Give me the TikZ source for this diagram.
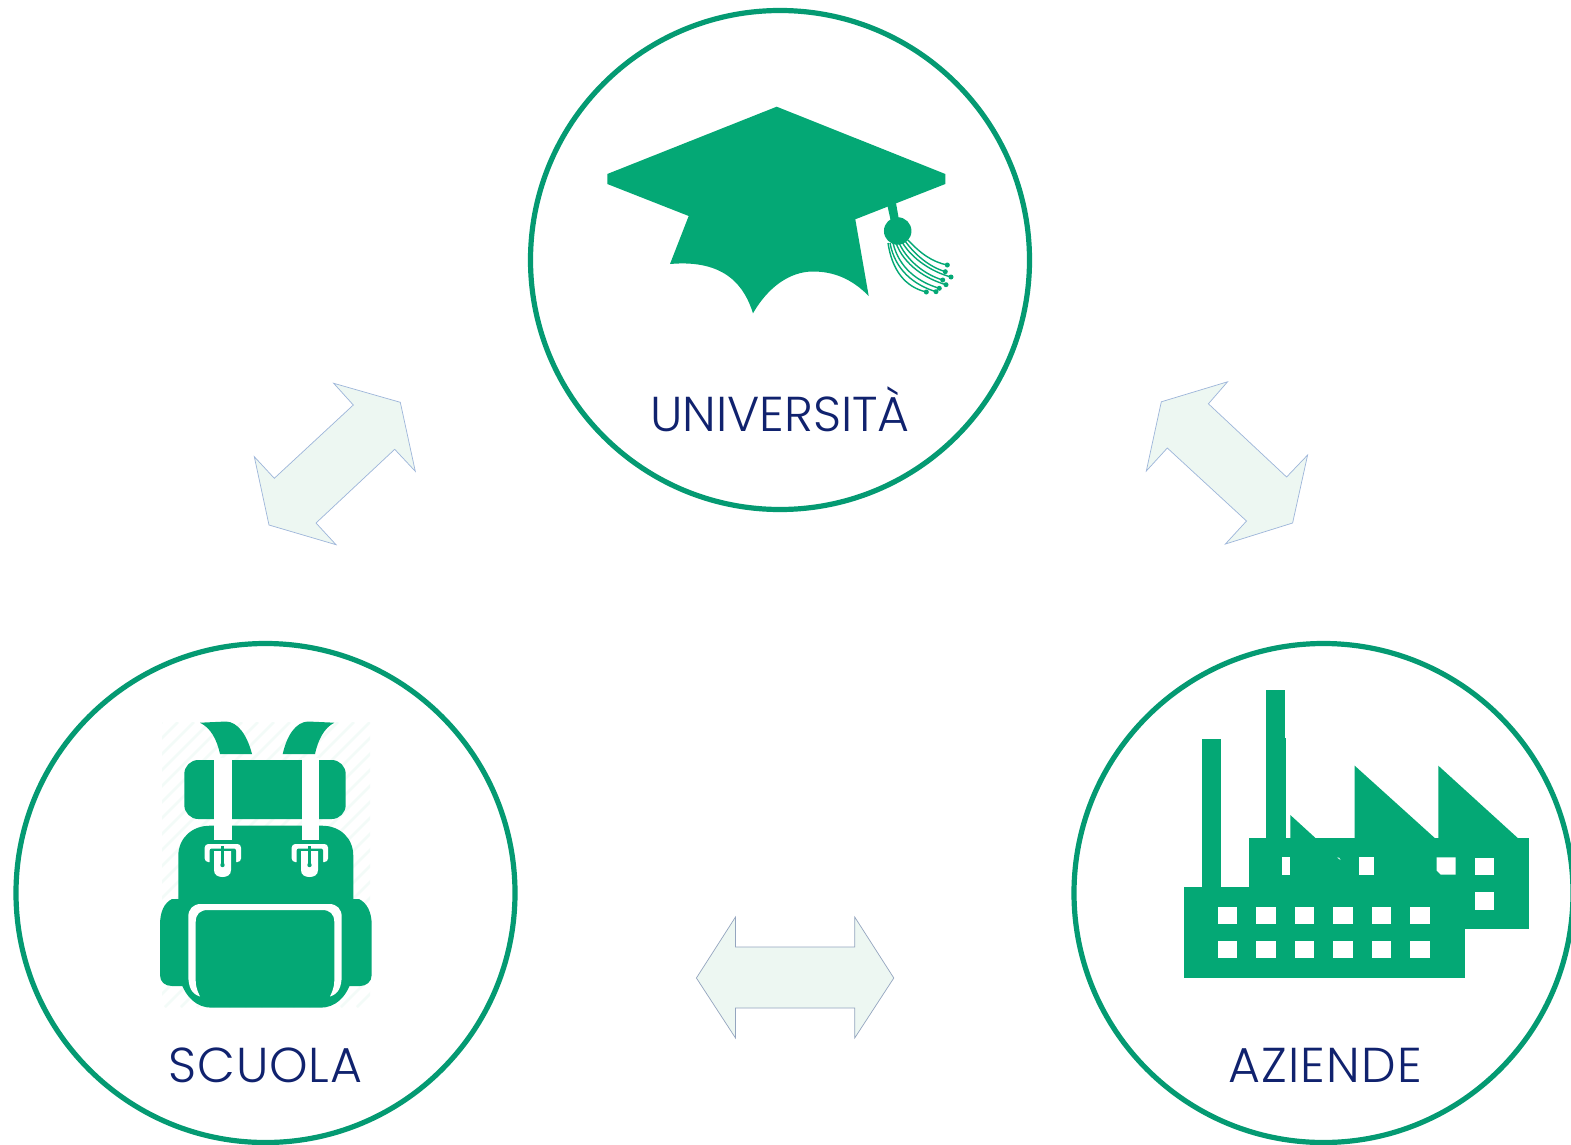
\documentclass[tikz,border=0pt]{standalone}
\usepackage{fontspec}
\newfontfamily\lblfont{Poppins}[UprightFont=* Light]
\definecolor{capgreen}{HTML}{04A875}
\definecolor{ringgreen}{HTML}{049A72}
\definecolor{navy}{HTML}{10226E}
\definecolor{arrowfill}{HTML}{EDF7F2}
\definecolor{arrowline}{HTML}{9DB5DA}
\definecolor{hatch}{HTML}{F3FBF8}
\tikzset{
  ring/.style={circle,draw=ringgreen,line width=5.2pt,minimum size=499pt,inner sep=0pt},
  lbl/.style={anchor=base,text=navy,font=\lblfont\fontsize{49}{49}\selectfont,inner sep=0pt},
  duo/.style={fill=arrowfill,draw=arrowline,line width=0.7pt,line join=miter},
  icon/.style={fill=capgreen,draw=none},
  gap/.style={fill=white,draw=none},
  strand/.style={draw=capgreen,line width=1.4pt,fill=none},
  tip/.style={circle,fill=capgreen,inner sep=0pt,minimum size=5pt}
}
\begin{document}
\begin{tikzpicture}[x=1pt,y=-1pt]
\useasboundingbox (0,0) rectangle (1571,1145);
\clip (0,0) rectangle (1571,1145);
\fill[white] (0,0) rectangle (1571,1145);

% rings
\node[ring] (uni) at (780,260) {};
\node[ring] (scu) at (265.5,893) {};
\node[ring] (azi) at (1323.5,893) {};

% labels
\node[lbl] (unilabel) at (780,431) {UNIVERSITÀ};
\node[lbl] (sculabel) at (265.5,1082) {\addfontfeature{LetterSpace=1.5}SCUOLA};
\node[lbl] (azilabel) at (1325,1082) {\addfontfeature{LetterSpace=2.5}AZIENDE};

% double arrows
\draw[duo] (333.7,383.3) -- (353.3,405) -- (274.3,478.3) -- (254.3,456.7) -- (269,525) -- (336,544.7) -- (316,523) -- (394.7,449.3) -- (415.3,471.3) -- (400.3,402.3) -- cycle;
\draw[duo] (1227.5,381.8) -- (1208.4,403.8) -- (1286.6,477) -- (1307.6,455) -- (1292.6,523) -- (1225.4,544) -- (1246.5,521) -- (1167.3,448) -- (1146.3,471) -- (1161.3,401.8) -- cycle;
\draw[duo,draw=arrowline!70!gray] (696.4,978) -- (735.5,917) -- (735.5,947) -- (854.7,947) -- (854.7,917) -- (893.8,978) -- (854.7,1038) -- (854.7,1008) -- (735.5,1008) -- (735.5,1038) -- cycle;

% graduation cap
\fill[icon] (776.7,106.7) -- (945.3,174) -- (945.3,184) -- (855.3,219.3) -- (868.7,296)
  .. controls (852,279) and (834,271.5) .. (813,271.5)
  .. controls (790,271.5) and (768,287) .. (753,313.3)
  .. controls (745,288) and (727,259) .. (670,264)
  -- (688.7,216) -- (607.3,184) -- (607.3,174) -- cycle;
\fill[icon] (887.5,206) -- (896,203) -- (899,220) -- (891,222) -- cycle;
\node[circle,fill=capgreen,inner sep=0pt,minimum size=27.5pt] (ball) at (897.7,231) {};
\foreach \sx/\sy/\ax/\ay/\bx/\by/\ex/\ey in {
  908/240/920/253/932/262/947.3/265,
  905/241/916/256/930/267/945.3/271.7,
  902/242/912/259/932/272/951/277,
  899/243/908/262/926/275/942.7/280,
  896/243/904/265/926/279/946/284.7,
  893/243/899/268/918/282/939.3/288.3,
  890/243/895/270/914/285/936/291.7,
  888/243/892/270/905/287/926.3/292}{
  \draw[strand] (\sx,\sy) .. controls (\ax,\ay) and (\bx,\by) .. (\ex,\ey);
  \node[tip] at (\ex,\ey) {};
}

% backpack: faint hatching
\begin{scope}
\clip (162,722) rectangle (370,1007);
\foreach \k in {0,16,...,520}{
  \draw[hatch,line width=2.5pt] (162+\k-285,1007) -- (162+\k,722);
}
\end{scope}
% backpack: straps
\fill[icon] (200,722.7) -- (226,721.5) .. controls (238,722) and (247,735) .. (252,754) -- (220,754) .. controls (217,740) and (211,728) .. (200,722.7) -- cycle;
\fill[icon] (334.3,722.7) -- (308,721.5) .. controls (296,722) and (287,735) .. (282.7,754) -- (315,754) .. controls (318,740) and (324,728) .. (334.3,722.7) -- cycle;
% backpack: roll
\fill[icon,rounded corners=14pt] (184.3,760) rectangle (345.7,819);
% backpack: side pockets and body
\fill[icon] (172,899) .. controls (164,903) and (160,912) .. (160,925) -- (160,975) .. controls (160,982) and (165,986) .. (172,986) -- (360,986) .. controls (366,986) and (371.7,982) .. (371.7,975) -- (371.7,925) .. controls (371.7,912) and (367,903) .. (359,899) -- cycle;
\fill[icon] (178.3,910) -- (178.3,856) .. controls (178.3,838) and (192,825.7) .. (210,825.7) -- (322,825.7) .. controls (340,825.7) and (353.3,838) .. (353.3,856) -- (353.3,910) -- cycle;
\fill[icon] (180,980) .. controls (186,998) and (197,1007.7) .. (212,1007.7) -- (320,1007.7) .. controls (335,1007.7) and (346,998) .. (351.7,980) -- cycle;
% backpack: white strap bands
\fill[gap] (214,758) rectangle (231.7,840);
\fill[gap] (301.7,758) rectangle (319.3,840);
% backpack: pocket frame
\fill[gap] (200,996.5) .. controls (192,994) and (188.3,988) .. (188.3,975) -- (188.3,917) .. controls (188.3,909) and (193,904) .. (201,904)
  -- (329,904) .. controls (337,904) and (341.7,909) .. (341.7,917) -- (341.7,975) .. controls (341.7,988) and (338,994) .. (330,996.5)
  .. controls (332,992) and (334.3,988) .. (334.3,980) -- (334.3,922) .. controls (334.3,914) and (330,910) .. (322,910)
  -- (208,910) .. controls (200,910) and (195.7,914) .. (195.7,922) -- (195.7,980) .. controls (195.7,988) and (198,992) .. (200,996.5) -- cycle;
% backpack: buckles
\foreach \dx in {0,87}{
  \begin{scope}[xshift=\dx pt]
    \fill[gap,rounded corners=3.5pt] (204.7,844) rectangle (241,862);
    \fill[icon,rounded corners=2pt] (209.7,848.5) rectangle (236,866);
    \fill[gap] (214,851) -- (231,851) -- (231,870) .. controls (231,875) and (227,877) .. (222.5,877) .. controls (218,877) and (214,875) .. (214,870) -- cycle;
    \fill[icon] (220.8,846) rectangle (224.2,864);
    \fill[icon] (222.5,865) circle (2.2pt);
  \end{scope}
}

% factory
\fill[icon] (1184,887.3) rectangle (1465,977.7);
\fill[icon] (1248.7,838) rectangle (1529,929.3);
\fill[icon] (1202,739) rectangle (1221,888);
\fill[icon] (1265.7,689.7) rectangle (1284.7,739);
\fill[icon] (1266.3,737.7) rectangle (1285.7,839);
\fill[icon] (1290.3,815) -- (1316,838.5) -- (1290.3,838.5) -- cycle;
\fill[icon] (1354.7,765.7) -- (1435.3,838.5) -- (1354.7,838.5) -- cycle;
\fill[icon] (1438.3,765.7) -- (1518.3,838.5) -- (1438.3,838.5) -- cycle;
\fill[gap] (1282,857.3) rectangle (1290.3,874.7);
\fill[gap] (1359,857.3) rectangle (1373.7,874.7);
\fill[gap] (1436.7,857.3) -- (1455.7,857.3) -- (1455.7,874.7) -- (1440.7,874.7) -- (1436.7,870.7) -- cycle;
\fill[gap] (1475,858) rectangle (1494.3,875.3);
\fill[gap] (1475,892.3) rectangle (1494.3,910);
\fill[gap] (1337,857.5) -- (1340.5,860) -- (1339,857.5) -- cycle;
\foreach \i in {0,...,5}{
  \fill[gap] ({1217.7+38.55*\i},906.7) rectangle ({1237+38.55*\i},924.3);
  \fill[gap] ({1217.7+38.55*\i},940.7) rectangle ({1237+38.55*\i},958.3);
}
\end{tikzpicture}
\end{document}
